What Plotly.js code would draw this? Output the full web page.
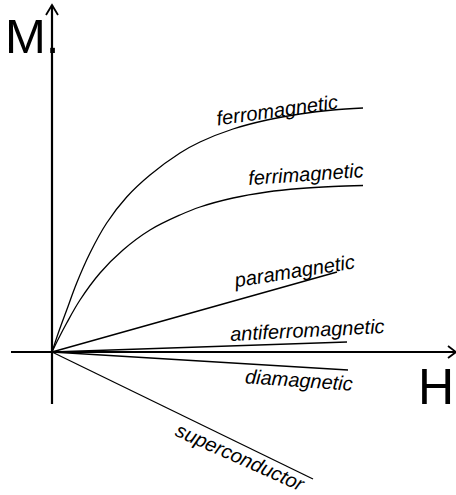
<!DOCTYPE html>
<html>
<head>
<meta charset="utf-8">
<script src="https://cdn.plot.ly/plotly-3.0.1.min.js"></script>
<style>html,body{margin:0;padding:0;background:#fff}#chart{width:456px;height:495px}</style>
</head>
<body>
<div id="chart"></div>
<script>
// Field strength H and magnetisation M (arbitrary units, origin at 0,0)
const ferroH = [0, 6.3, 14.7, 24.7, 38, 54.7, 74.7, 98, 128, 148, 181, 215, 248, 281, 311];
const ferroM = [0, 19, 42, 69, 99, 129, 155, 177, 199, 210, 223, 232, 238, 242, 244];
const ferriH = [0, 6.3, 14.7, 28, 48, 71, 98, 128, 148, 181, 215, 248, 281, 311];
const ferriM = [0, 13, 29, 52, 79, 102, 122, 137, 145, 154, 160, 163.5, 165.5, 166.5];
const paraH = [0, 285];
const paraM = [0, 80];
const antiH = [0, 295];
const antiM = [0, 10];
const diaH = [0, 296];
const diaM = [0, -18];
const superH = [0, 261];
const superM = [0, -127];

const labels = ["ferromagnetic", "ferrimagnetic", "paramagnetic", "antiferromagnetic", "diamagnetic", "superconductor"];
const labelH = [225, 254, 241.5, 255, 247, 188];
const labelM = [242, 178, 81, 22.5, -28, -105];
const labelAngle = [-8, -4, -9, -3, 4, 24];

// axes
const hAxisH = [-41, 404];
const hAxisM = [0, 0];
const mAxisH = [0, 0];
const mAxisM = [-52, 347];
const mArrowH = [-6, 0, 6];
const mArrowM = [337, 347, 337];
const hArrowH = [396, 404, 396];
const hArrowM = [6, 0, -6];

const thin = {color: '#000', width: 1.3};
const thick = {color: '#000', width: 2.2};
function tr(x, y, line, shape) {
  return {x: x, y: y, mode: 'lines', type: 'scatter', line: Object.assign({shape: shape || 'linear', smoothing: 1, simplify: false}, line), hoverinfo: 'skip', showlegend: false};
}
const data = [
  tr(ferroH, ferroM, thin, 'spline'),
  tr(ferriH, ferriM, thin, 'spline'),
  tr(paraH, paraM, thin),
  tr(antiH, antiM, thin),
  tr(diaH, diaM, thin),
  tr(superH, superM, thin),
  tr(hAxisH, hAxisM, thick),
  tr(mAxisH, mAxisM, thick),
  tr(mArrowH, mArrowM, {color: '#000', width: 1.8}),
  tr(hArrowH, hArrowM, {color: '#000', width: 1.8})
];

const annotations = labels.map((t, i) => ({
  x: labelH[i], y: labelM[i], xref: 'x', yref: 'y', text: t, showarrow: false,
  textangle: labelAngle[i], xanchor: 'center', yanchor: 'middle',
  font: {family: 'Liberation Sans, Arial, sans-serif', size: 20, color: '#000', style: 'italic'}
}));
annotations.push({x: -20, y: 316, xref: 'x', yref: 'y', text: 'M.', showarrow: false,
  xanchor: 'center', yanchor: 'middle', font: {family: 'Liberation Sans, Arial, sans-serif', size: 49, color: '#000'}});
annotations.push({x: 384, y: -35, xref: 'x', yref: 'y', text: 'H', showarrow: false,
  xanchor: 'center', yanchor: 'middle', font: {family: 'Liberation Sans, Arial, sans-serif', size: 50, color: '#000'}});

const layout = {
  width: 456, height: 495,
  margin: {l: 0, r: 0, t: 0, b: 0, pad: 0},
  paper_bgcolor: '#fff', plot_bgcolor: '#fff',
  xaxis: {range: [-52, 404], visible: false, fixedrange: true},
  yaxis: {range: [-143, 352], visible: false, fixedrange: true},
  showlegend: false,
  annotations: annotations
};
Plotly.newPlot('chart', data, layout, {displayModeBar: false, staticPlot: true});
</script>
</body>
</html>
